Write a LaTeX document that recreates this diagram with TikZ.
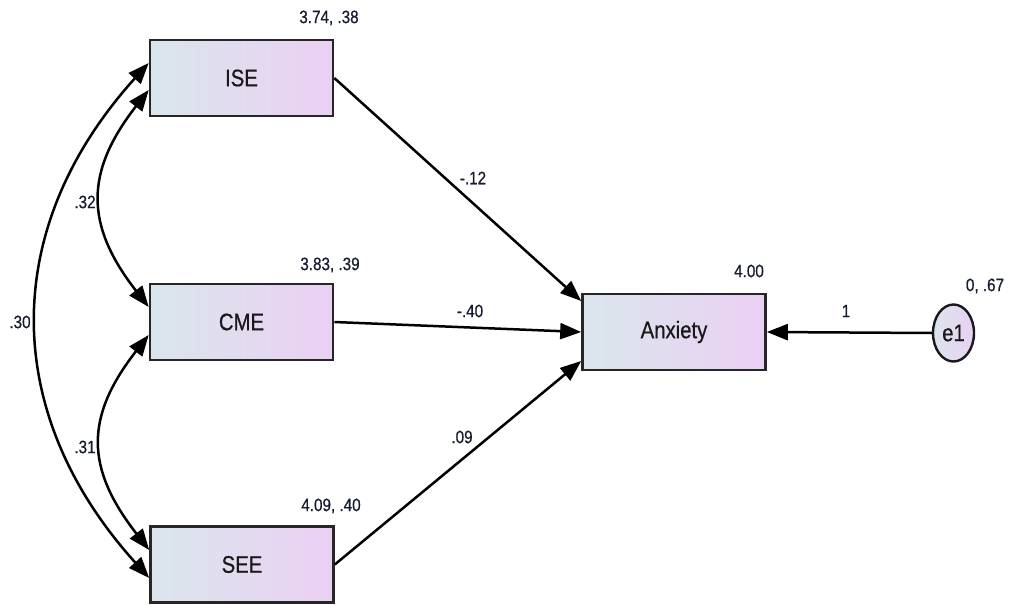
\documentclass[tikz,border=0pt]{standalone}
\usepackage{fontspec}
\setmainfont{Liberation Sans}[FakeStretch=0.85, FakeBold=0.6]
\usetikzlibrary{arrows.meta,calc,shapes.geometric}
\definecolor{boxleft}{RGB}{219,230,236}
\definecolor{boxright}{RGB}{234,208,243}
\definecolor{lbl}{RGB}{22,28,48}
\begin{document}
\begin{tikzpicture}[x=1bp,y=-1bp,
  var/.style={draw=black!85, line width=2.6bp, left color=boxleft, right color=boxright,
    minimum width=183bp, minimum height=76bp, inner sep=0pt,
    font=\fontsize{24}{28}\selectfont, text=black!90},
  err/.style={ellipse, draw=black!90, line width=2.4bp, left color=boxleft, right color=boxright,
    minimum width=41bp, minimum height=57bp, inner sep=0pt,
    font=\fontsize{24}{28}\selectfont, text=black!90},
  lab/.style={font=\fontsize{18}{20}\selectfont, text=lbl, inner sep=0pt},
  tip/.tip={Triangle[length=21bp,width=16bp]},
  reg/.style={line width=2.5bp, draw=black, -tip},
  cov/.style={line width=2.5bp, draw=black, tip-tip}
]
\useasboundingbox (0,0) rectangle (1010,605);

% observed variables
\node[var] (ise) at (241.5,78) {ISE};
\node[var] (cme) at (241.5,322) {CME};
\node[var] (see) at (242,564.5) {SEE};
\node[var] (anx) at (674,332) {Anxiety};
% error term
\node[err] (e1) at (953.5,333) {e1};

% regression paths
\draw[reg] (ise.east) -- ($(anx.west)+(0,-31)$);
\draw[reg] (cme.east) -- (anx.west);
\draw[reg] (see.east) -- ($(anx.west)+(0,29)$);
\draw[reg] (e1.west) -- (anx.east);

% covariances
\draw[cov] ($(ise.west)+(0,12)$) .. controls +(-64,82) and +(-64,-82) .. ($(cme.west)+(0,-15)$);
\draw[cov] ($(ise.west)+(0,-15)$) .. controls +(-149,165) and +(-149,-165) .. ($(see.west)+(0,13.5)$);
\draw[cov] ($(cme.west)+(0,13)$) .. controls +(-64,82) and +(-64,-82) .. ($(see.west)+(0,-14.5)$);

% means and variances
\node[lab] (mise) at (329,18) {3.74, .38};
\node[lab] (mcme) at (330,265) {3.83, .39};
\node[lab] (msee) at (331,506) {4.09, .40};
\node[lab] (manx) at (749,271) {4.00};
\node[lab] (me1) at (985,286) {0, .67};

% path coefficients
\node[lab] (pise) at (473,178) {-.12};
\node[lab] (pcme) at (470,311) {-.40};
\node[lab] (psee) at (462,437) {.09};
\node[lab] (pe1) at (846,311) {1};

% correlations
\node[lab] (c12) at (85,202) {.32};
\node[lab] (c13) at (20,322) {.30};
\node[lab] (c23) at (85,447) {.31};
\end{tikzpicture}
\end{document}
